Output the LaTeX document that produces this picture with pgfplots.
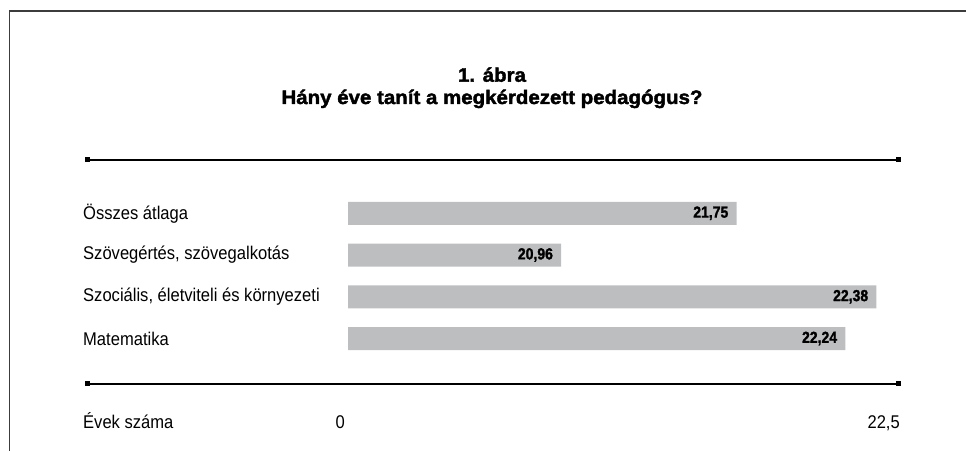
\documentclass[border=0pt]{standalone}
\usepackage{pgfplots}
\pgfplotsset{compat=1.18}
\usepackage{fontspec}
\setmainfont{Liberation Sans}[FakeStretch=0.9]
\newfontfamily\titlefont{Liberation Sans}[FakeStretch=1.05, BoldFeatures={FakeBold=2}]
\newfontfamily\valfont{Liberation Sans}[FakeStretch=0.875, BoldFeatures={FakeBold=1.5}]
\definecolor{bargray}{RGB}{189,190,192}
\definecolor{framegray}{RGB}{60,60,60}
\begin{document}
\begin{tikzpicture}
\path[use as bounding box] (0,0) rectangle (966bp,451bp);
\draw[framegray, line width=1.3bp] (9.5bp,0bp) -- (9.5bp,440bp) -- (966bp,440bp);
\node[anchor=base, inner sep=0pt, font=\titlefont\bfseries\fontsize{19.5bp}{22bp}\selectfont] at (492bp,369.3bp) {1. ábra};
\node[anchor=base, inner sep=0pt, font=\titlefont\bfseries\fontsize{19.5bp}{22bp}\selectfont] at (492bp,347bp) {Hány éve tanít a megkérdezett pedagógus?};
% rules
\draw[line width=1.4bp] (87bp,291bp) -- (898bp,291bp);
\fill (84.5bp,288.5bp) rectangle +(5bp,5bp);
\fill (895.5bp,288.5bp) rectangle +(5bp,5bp);
\draw[line width=1.4bp] (87bp,67bp) -- (898bp,67bp);
\fill (84.5bp,64.5bp) rectangle +(5bp,5bp);
\fill (895.5bp,64.5bp) rectangle +(5bp,5bp);
\node[anchor=base west, inner sep=0pt, font=\fontsize{18.4bp}{22bp}\selectfont] at (83bp,22.7bp) {Évek száma};
\begin{axis}[
  at={(348bp,91.6bp)}, anchor=south west,
  scale only axis, width=555bp, height=167bp,
  xmin=20, xmax=22.5, ymin=-0.5, ymax=3.5, y dir=reverse,
  xbar, bar width=23bp, bar shift=0pt,
  axis line style={draw=none}, tick style={draw=none}, major tick length=0pt,
  ytick={0,1,2,3},
  yticklabels={Összes átlaga, {Szövegértés, szövegalkotás}, {Szociális, életviteli és környezeti}, Matematika},
  yticklabel style={anchor=west, inner sep=0pt, xshift=-265bp, font=\fontsize{18.4bp}{22bp}\selectfont},
  xtick={20,22.5}, xticklabels={0,{22,5}},
  xticklabel style={anchor=base east, inner sep=0pt, xshift=-3bp, yshift=-68.6bp, font=\fontsize{18.4bp}{22bp}\selectfont},
  /pgf/number format/fixed, /pgf/number format/fixed zerofill,
  /pgf/number format/precision=2, /pgf/number format/use comma,
  /pgf/number format/assume math mode=true,
  nodes near coords, point meta=x,
  nodes near coords style={anchor=east, inner sep=0pt, xshift=-8bp, font=\valfont\bfseries\fontsize{16bp}{18bp}\selectfont},
]
\addplot[fill=bargray, draw=none] coordinates {(21.75,0) (20.96,1) (22.38,2) (22.24,3)};
\end{axis}
\end{tikzpicture}
\end{document}
